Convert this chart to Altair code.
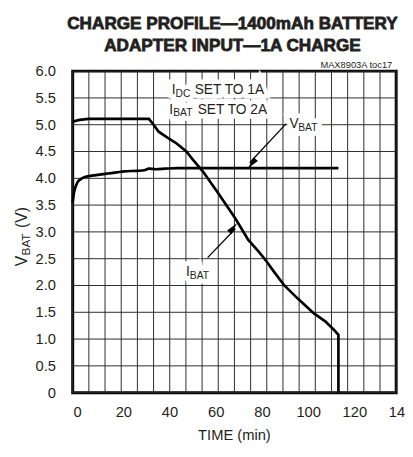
import altair as alt
import pandas as pd

# ---------------- data ----------------
vbat_t = [0, 0.5, 1.1, 2, 3.3, 5, 6.8, 10, 15.3, 19, 22.3, 28, 31, 33, 36, 40, 45, 115]
vbat_v = [3.55, 3.72, 3.82, 3.92, 3.98, 4.02, 4.04, 4.06, 4.09, 4.11, 4.13, 4.14, 4.15, 4.18, 4.17, 4.18, 4.19, 4.19]

ibat_t = [0, 1, 3, 6.8, 15, 25, 33, 35, 37.2, 41, 45, 49.2, 52, 56.3, 63, 70.4, 76, 80.3,
          83.2, 87.4, 91.6, 97.3, 104.4, 109.3, 112.9, 115, 115]
ibat_v = [5.05, 5.07, 5.09, 5.11, 5.11, 5.11, 5.11, 5.0, 4.87, 4.76, 4.65, 4.5, 4.35, 4.13, 3.72,
          3.25, 2.85, 2.64, 2.49, 2.24, 2.0, 1.76, 1.48, 1.33, 1.18, 1.08, 0]

x_ticks = [0, 20, 40, 60, 80, 100, 120, 140]
x_labels = ["0", "20", "40", "60", "80", "100", "120", "140"]
x_grid = [i * 7 for i in range(21)]
y_ticks = [i * 0.5 for i in range(13)]
y_labels = ["0", "0.5", "1.0", "1.5", "2.0", "2.5", "3.0", "3.5", "4.0", "4.5", "5.0", "5.5", "6.0"]

title_lines = ["CHARGE PROFILE\u20141400mAh BATTERY", "ADAPTER INPUT\u20141A CHARGE"]

FONT = "Liberation Sans, Arial, Helvetica, sans-serif"
INK = "#231f20"
GRID = "#2a2a2a"

W, H = 330, 328
XS = alt.Scale(domain=[0, 140], nice=False, zero=False)
YS = alt.Scale(domain=[0, 6], nice=False, zero=False)


def X(f):
    return alt.X(f, type="quantitative", scale=XS, axis=None)


def Y(f):
    return alt.Y(f, type="quantitative", scale=YS, axis=None)


vb = pd.DataFrame({"t": vbat_t, "v": vbat_v})
ib = pd.DataFrame({"t": ibat_t, "v": ibat_v})

# grid lines: vertical every 7 min, horizontal every 0.5 V
vgrid = alt.Chart(pd.DataFrame({"gx": x_grid})).mark_rule(color=GRID, strokeWidth=1).encode(x=X("gx"))
hgrid = alt.Chart(pd.DataFrame({"gy": y_ticks})).mark_rule(color=GRID, strokeWidth=1).encode(y=Y("gy"))

# tick labels
ylab = alt.Chart(pd.DataFrame({"gy": y_ticks, "lab": y_labels})).mark_text(
    align="right", baseline="middle", font=FONT, fontSize=15, color=INK
).encode(y=Y("gy"), x=alt.value(-17), text="lab:N")
xlab = alt.Chart(pd.DataFrame({"gx": x_ticks, "lab": x_labels})).mark_text(
    align="center", baseline="top", font=FONT, fontSize=15, color=INK, dx=5
).encode(x=X("gx"), y=alt.value(H + 13), text="lab:N")

vline = alt.Chart(vb).mark_line(color="black", strokeWidth=2.7, interpolate="monotone").encode(
    x=X("t"), y=Y("v")
)
iline = alt.Chart(ib).mark_line(color="black", strokeWidth=2.7).encode(x=X("t"), y=Y("v"))

# arrows
arrows = pd.DataFrame({"t1": [92.4, 58.4], "v1": [5.02, 2.52], "t2": [76.6, 70.4], "v2": [4.29, 3.06]})
arrow_lines = alt.Chart(arrows).mark_rule(color="black", strokeWidth=1.3).encode(
    x=X("t1"), y=Y("v1"), x2=alt.X2("t2"), y2=alt.Y2("v2")
)
heads = pd.DataFrame({"t": [75.9, 71.1], "v": [4.19, 3.16], "a": [220.7, 40.6]})
head_layer = alt.Chart(heads).mark_point(
    shape="M0,0 L0.42,1.7 L-0.42,1.7 Z", filled=True, color="black", size=200, opacity=1
).encode(x=X("t"), y=Y("v"), angle=alt.Angle("a:Q", scale=None))

# annotation texts (data coords)
ann = pd.DataFrame([
    {"txt": "I", "t": 42.85, "v": 5.566, "sz": 14},
    {"txt": "DC", "t": 44.5, "v": 5.524, "sz": 10.5},
    {"txt": "SET TO 1A", "t": 52.8, "v": 5.566, "sz": 14},
    {"txt": "I", "t": 41.8, "v": 5.20, "sz": 14},
    {"txt": "BAT", "t": 43.5, "v": 5.158, "sz": 10.5},
    {"txt": "SET TO 2A", "t": 54.1, "v": 5.20, "sz": 14},
    {"txt": "V", "t": 93.8, "v": 4.94, "sz": 14},
    {"txt": "BAT", "t": 97.6, "v": 4.875, "sz": 10.5},
    {"txt": "I", "t": 49.0, "v": 2.186, "sz": 14},
    {"txt": "BAT", "t": 50.7, "v": 2.12, "sz": 10.5},
])
halo = alt.Chart(ann).mark_text(align="left", baseline="alphabetic", font=FONT, color="white",
                                stroke="white", strokeWidth=9).encode(
    x=X("t"), y=Y("v"), text="txt:N", size=alt.Size("sz:Q", scale=None, legend=None),
)
ann_layer = alt.Chart(ann).mark_text(align="left", baseline="alphabetic", font=FONT, color=INK).encode(
    x=X("t"), y=Y("v"), text="txt:N", size=alt.Size("sz:Q", scale=None, legend=None),
)


# outside texts in pixel coords (relative to plot origin)
def ptext(txt, x, y, size, **kw):
    return alt.Chart(pd.DataFrame({"txt": [txt]})).mark_text(
        font=FONT, fontSize=size, color=INK, **kw
    ).encode(text="txt:N", x=alt.value(x), y=alt.value(y))


title1 = ptext(title_lines[0], 163, -43, 17.5, fontWeight="bold", align="center", baseline="alphabetic",
               stroke=INK, strokeWidth=0.8)
title2 = ptext(title_lines[1], 163, -21, 17.5, fontWeight="bold", align="center", baseline="alphabetic",
               stroke=INK, strokeWidth=0.8)
toc = ptext("MAX8903A toc17", 326, -3, 9.5, align="right", baseline="alphabetic")
xtitle = ptext("TIME (min)", 165, H + 48, 15, align="center", baseline="alphabetic")
yt_v = ptext("V", -47, 199, 16, angle=270, align="left", baseline="alphabetic")
yt_b = ptext("BAT", -44, 188, 12, angle=270, align="left", baseline="alphabetic")
yt_u = ptext("(V)", -47, 160, 16, angle=270, align="left", baseline="alphabetic")

chart = alt.layer(
    vgrid, hgrid, ylab, xlab, halo, vline, iline, arrow_lines, head_layer, ann_layer,
    title1, title2, toc, xtitle, yt_v, yt_b, yt_u,
).properties(
    width=W, height=H,
    autosize=alt.AutoSizeParams(type="none"),
    padding={"left": 66, "top": 60, "right": 9, "bottom": 50},
).configure_view(stroke="black", strokeWidth=3)

chart.save("out.html", embed_options={"renderer": "svg", "actions": False})
